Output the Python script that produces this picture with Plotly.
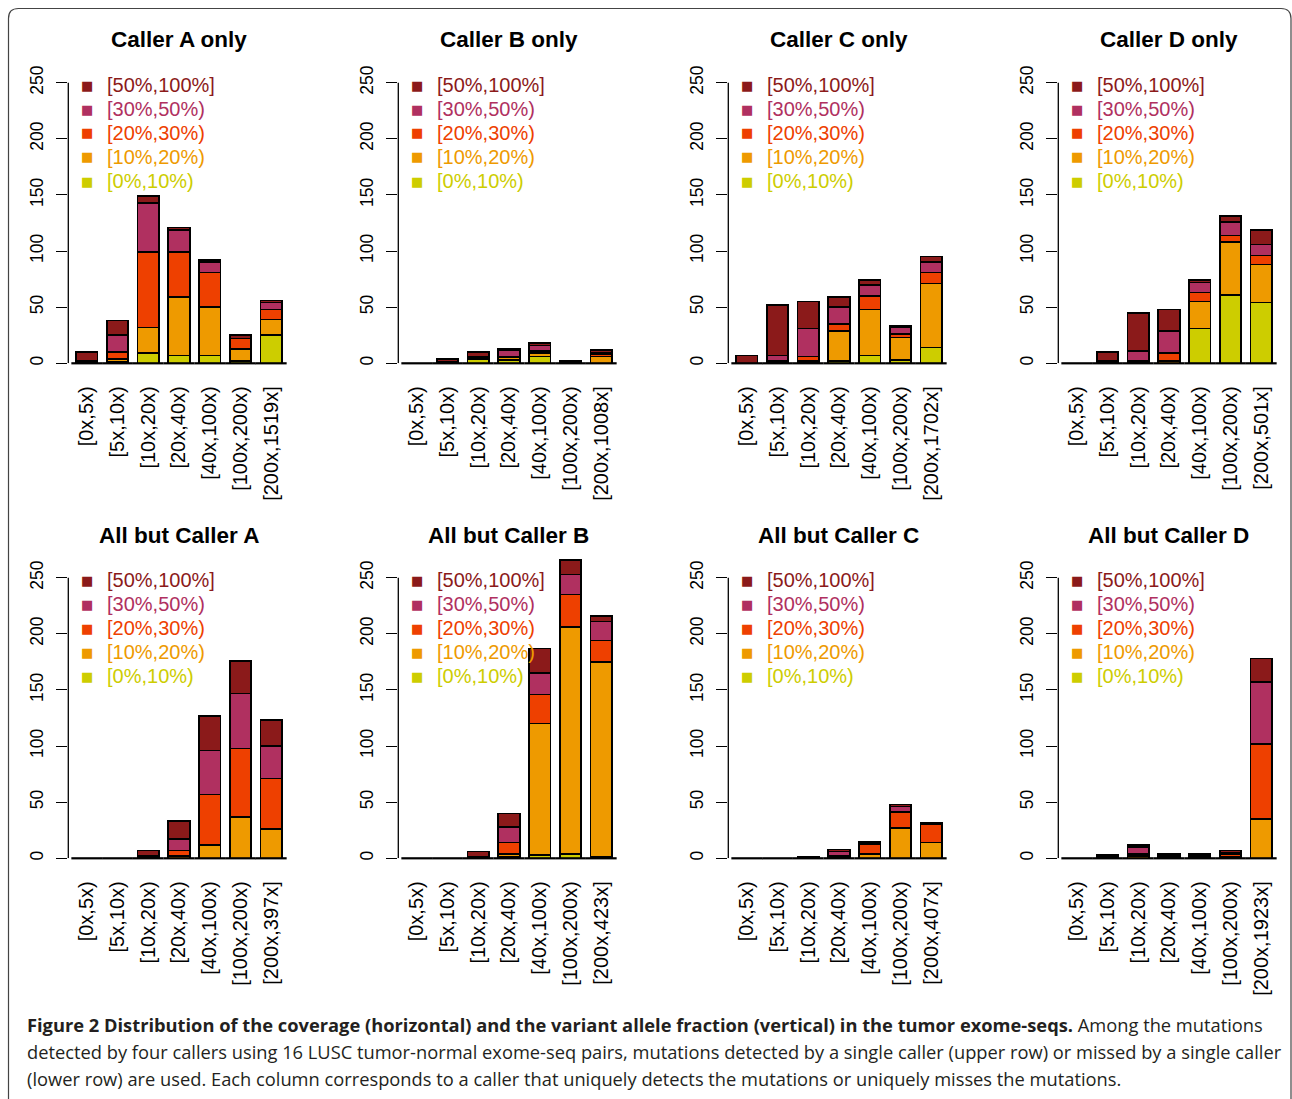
import plotly.graph_objects as go

# ---------------- data ----------------
coverage_bins = ["[0x,5x)", "[5x,10x)", "[10x,20x)", "[20x,40x)", "[40x,100x)", "[100x,200x)"]
last_bin_max = [1519, 1008, 1702, 501, 397, 423, 407, 1923]
panel_titles = ["Caller A only", "Caller B only", "Caller C only", "Caller D only",
                "All but Caller A", "All but Caller B", "All but Caller C", "All but Caller D"]
vaf_classes = ["[0%,10%)", "[10%,20%)", "[20%,30%)", "[30%,50%)", "[50%,100%]"]
vaf_colors = ["#CDCD00", "#EE9A00", "#EE4000", "#B03060", "#8B1A1A"]

# each list: per coverage bin -> counts for [0-10, 10-20, 20-30, 30-50, 50-100]
caller_a_only = [[0, 0, 1, 1, 8], [1, 3, 6, 15, 13], [9, 23, 67, 44, 6], [7, 52, 40, 20, 2],
                 [7, 43, 31, 9, 2], [2, 11, 9, 0, 3], [25, 14, 9, 6, 2]]
caller_b_only = [[0, 0, 0, 0, 0], [0, 1, 0, 0, 3], [4, 1, 1, 0, 4], [3, 2, 1, 6, 1],
                 [6, 3, 2, 5, 2], [1, 0, 0, 0, 1], [0, 6, 2, 1, 3]]
caller_c_only = [[0, 0, 0, 0, 7], [0, 1, 1, 5, 45], [1, 1, 4, 25, 24], [2, 27, 6, 15, 9],
                 [7, 41, 12, 10, 4], [3, 20, 3, 6, 1], [14, 57, 10, 9, 5]]
caller_d_only = [[0, 0, 0, 0, 0], [0, 0, 1, 1, 8], [0, 1, 1, 9, 34], [0, 2, 7, 20, 19],
                 [31, 24, 8, 9, 2], [61, 47, 6, 12, 5], [54, 34, 8, 10, 13]]
all_but_a = [[0, 0, 0, 0, 0], [0, 0, 0, 0, 0], [0, 0, 1, 1, 5], [0, 2, 5, 10, 16],
             [0, 12, 45, 39, 31], [0, 37, 61, 49, 29], [0, 26, 45, 29, 23]]
all_but_b = [[0, 0, 0, 0, 0], [0, 0, 0, 0, 0], [0, 1, 0, 0, 5], [1, 3, 10, 14, 12],
             [3, 117, 26, 19, 22], [4, 202, 29, 18, 13], [1, 174, 19, 17, 5]]
all_but_c = [[0, 0, 0, 0, 0], [0, 0, 0, 0, 0], [0, 0, 0, 0, 1], [0, 1, 1, 4, 2],
             [0, 4, 9, 1, 1], [0, 27, 14, 5, 2], [0, 14, 16, 1, 1]]
all_but_d = [[0, 0, 0, 0, 0], [0, 0, 1, 0, 2], [0, 2, 2, 6, 2], [0, 1, 2, 0, 1],
             [0, 1, 2, 0, 1], [0, 1, 3, 1, 2], [0, 35, 67, 55, 21]]

y_ticks = [0, 50, 100, 150, 200, 250]

caption_lines = [
    "<b>Figure 2 Distribution of the coverage (horizontal) and the variant allele fraction (vertical) in the tumor exome-seqs.</b> Among the mutations",
    "detected by four callers using 16 LUSC tumor-normal exome-seq pairs, mutations detected by a single caller (upper row) or missed by a single caller",
    "(lower row) are used. Each column corresponds to a caller that uniquely detects the mutations or uniquely misses the mutations.",
]

panels = [caller_a_only, caller_b_only, caller_c_only, caller_d_only,
          all_but_a, all_but_b, all_but_c, all_but_d]

# ---------------- layout helpers ----------------
W, H = 1292, 1099
FONT = "Liberation Sans"


def px(x):
    return x / W


def py(y):
    return 1 - y / H


fig = go.Figure()
layout = dict(
    template="none",
    width=W, height=H, margin=dict(l=0, r=0, t=0, b=0, autoexpand=False),
    paper_bgcolor="white", plot_bgcolor="white",
    barmode="stack", bargap=0.3, showlegend=False,
    font=dict(family=FONT, color="black"),
    annotations=[], shapes=[],
)

col_pitch = 330
axis_left = 68.3
dom_w = 221.4
y_top = 270
y_axis_max = y_ticks[-1]
scale = (363.3 - 82.7) / y_axis_max          # px per unit
baselines = [363.3, 858.3]
title_y = [40, 535]
legend_y0 = [85, 580]

for p, data in enumerate(panels):
    r, c = divmod(p, 4)
    k = p + 1
    xa = "x" if k == 1 else f"x{k}"
    ya = "y" if k == 1 else f"y{k}"
    cats = coverage_bins + [f"[200x,{last_bin_max[p]}x]"]
    for j in range(5):
        fig.add_trace(go.Bar(
            x=cats, y=[b[j] for b in data], name=vaf_classes[j],
            marker=dict(color=vaf_colors[j], line=dict(color="black", width=1.6)),
            xaxis=xa, yaxis=ya, cliponaxis=False, hoverinfo="x+y+name",
        ))
    # baseline outline (R draws zero-height bars as a line)
    fig.add_trace(go.Scatter(
        x=cats, y=[0] * len(cats), mode="markers", xaxis=xa, yaxis=ya,
        marker=dict(symbol="line-ew", size=22, line=dict(color="black", width=2.2)),
        cliponaxis=False, hoverinfo="skip",
    ))
    x0 = axis_left + col_pitch * c
    yb = baselines[r]
    yt = yb - y_top * scale
    layout["xaxis" if k == 1 else f"xaxis{k}"] = dict(
        domain=[px(x0), px(x0 + dom_w)], anchor=ya, type="category",
        range=[-0.6, 6.6], showline=False, showgrid=False, zeroline=False,
        ticks="", tickangle=-90, tickfont=dict(size=20, family=FONT, color="black"),
        ticklabelstandoff=18, automargin=False,
    )
    layout["yaxis" if k == 1 else f"yaxis{k}"] = dict(
        domain=[py(yb), py(yt)], anchor=xa, range=[0, y_top],
        showline=False,
        ticks="outside", ticklen=11, tickwidth=1.3, tickcolor="black",
        tickvals=y_ticks, tickangle=-90, tickfont=dict(size=17.5, family=FONT, color="black"),
        ticklabelstandoff=6, showgrid=False, zeroline=False, automargin=False,
    )
    # R-style axis line spanning only the tick range
    layout["shapes"].append(dict(
        type="line", xref=f"{xa} domain", yref=ya, x0=0, x1=0, y0=y_ticks[0], y1=y_ticks[-1],
        line=dict(color="black", width=1.3), layer="above",
    ))
    # title
    layout["annotations"].append(dict(
        text=f"<b>{panel_titles[p]}</b>", xref="paper", yref="paper",
        x=px(x0 + dom_w / 2 - 0.5), y=py(title_y[r]), xanchor="center", yanchor="middle",
        showarrow=False, font=dict(size=22.5, family=FONT, color="black"),
    ))
    # legend (top item = highest VAF class)
    for i, j in enumerate(range(4, -1, -1)):
        yy = legend_y0[r] + 24 * i
        layout["annotations"].append(dict(
            text="■", xref="paper", yref="paper", x=px(x0 + 18.5), y=py(yy),
            xanchor="center", yanchor="middle", showarrow=False,
            font=dict(size=13, family="DejaVu Sans", color=vaf_colors[j]),
        ))
        layout["annotations"].append(dict(
            text=vaf_classes[j], xref="paper", yref="paper", x=px(x0 + 36.5), y=py(yy),
            xanchor="left", yanchor="middle", showarrow=False,
            font=dict(size=20, family=FONT, color=vaf_colors[j]),
        ))

for i, line in enumerate(caption_lines):
    layout["annotations"].append(dict(
        text=line, xref="paper", yref="paper", x=px(25), y=py(1024 + 27 * i),
        xanchor="left", yanchor="middle", showarrow=False,
        font=dict(size=18.3, family="Open Sans", color="#231F20"),
    ))

# rounded outer frame
rr = 10
L, T, R, B = 8.5, 8.5, 1291.0, 1120
frame = (f"M {px(L)},{py(B)} L {px(L)},{py(T + rr)} Q {px(L)},{py(T)} {px(L + rr)},{py(T)} "
         f"L {px(R - rr)},{py(T)} Q {px(R)},{py(T)} {px(R)},{py(T + rr)} L {px(R)},{py(B)}")
layout["shapes"].append(dict(type="path", path=frame, xref="paper", yref="paper",
                             line=dict(color="#444444", width=1.2)))

fig.update_layout(**layout)
fig.write_html("out.html", config={"displayModeBar": False},
               post_script="document.body.style.margin='0';document.body.style.overflow='hidden';")
